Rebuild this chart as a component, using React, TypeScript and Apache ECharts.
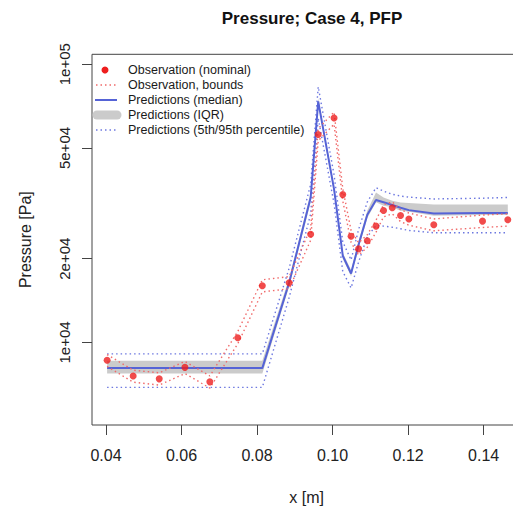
import React, { useEffect, useRef } from "react";
import * as echarts from "echarts";

const xPos = [0.0403, 0.0472, 0.0541, 0.0609, 0.0675, 0.0749, 0.0814, 0.0885, 0.0942, 0.0962, 0.1004, 0.1027, 0.1049, 0.1069, 0.1092, 0.1115, 0.1135, 0.1158, 0.118, 0.1202, 0.1268, 0.1397, 0.1464];

const obsNominal = [8630, 7580, 7400, 8140, 7220, 10400, 16000, 16400, 24500, 55900, 64100, 34000, 24100, 21700, 23200, 26200, 29800, 30500, 28600, 27800, 26500, 27300, 27600];
const obsUpper = [9050, 7950, 7780, 8550, 7580, 10950, 16800, 17250, 25700, 58700, 67300, 35700, 25300, 22800, 24400, 27500, 31300, 32000, 30000, 29200, 27800, 28700, 29000];
const obsLower = [8200, 7200, 7030, 7730, 6860, 9900, 15200, 15600, 23300, 53100, 60900, 32300, 22900, 20600, 22000, 24900, 28300, 29000, 27200, 26400, 25200, 25900, 26200];

const predQ95 = [9100, 9100, 9100, 9100, 9100, 9100, 9100, 18500, 37000, 83000, 40000, 23000, 19800, 25500, 32000, 36000, 35000, 34100, 33600, 33300, 32800, 33000, 33200];
const predQ75 = [8590, 8590, 8590, 8590, 8590, 8590, 8590, 17000, 34500, 75500, 36500, 21000, 18200, 23200, 29800, 34600, 33200, 32300, 31850, 31700, 31330, 31330, 31330];
const predMedian = [8090, 8090, 8090, 8090, 8090, 8090, 8090, 16400, 33200, 73500, 35500, 20500, 17700, 22500, 28800, 32500, 31900, 31200, 30500, 29900, 29100, 29200, 29200];
const predQ25 = [7740, 7740, 7740, 7740, 7740, 7740, 7740, 15900, 32000, 71500, 34500, 20000, 17300, 21800, 28000, 31900, 31000, 30600, 29750, 29500, 28560, 28700, 28700];
const predQ05 = [6900, 6900, 6900, 6900, 6900, 6900, 6900, 14500, 29000, 64000, 31500, 18000, 15700, 19500, 24000, 26300, 26200, 25960, 25620, 25270, 24790, 24800, 24800];

const xTicks = [0.04, 0.06, 0.08, 0.1, 0.12, 0.14];
const yTicks = [10000, 20000, 50000, 100000];

const legendLabels = [
  "Observation (nominal)",
  "Observation, bounds",
  "Predictions (median)",
  "Predictions (IQR)",
  "Predictions (5th/95th percentile)",
];

const RED = "#ee1e1e";
const RED_DOT = "#f06a6a";
const BLUE = "#5563d6";
const BLUE_DOT = "#6d78e0";
const GRAY = "#cbcbcb";
const FONT = "'Liberation Sans', Arial, Helvetica, sans-serif";

const pairs = (ys: number[]) => xPos.map((x, i) => [x, ys[i]]);

function fmtSci(v: number) {
  const e = Math.floor(Math.log10(v) + 1e-9);
  const m = Math.round(v / Math.pow(10, e));
  return m + "e+" + (e < 10 ? "0" + e : String(e));
}

export default function App() {
  const ref = useRef<HTMLDivElement>(null);
  useEffect(() => {
    if (!ref.current) return;
    const chart = echarts.init(ref.current, undefined, { renderer: "svg" });
    const legendY = [70, 85, 100, 115, 130];
    const graphics: any[] = [
      { type: "circle", shape: { cx: 105, cy: legendY[0], r: 3.5 }, style: { fill: RED }, z: 100 },
      { type: "line", shape: { x1: 96, y1: legendY[1], x2: 118, y2: legendY[1] }, style: { stroke: RED_DOT, lineWidth: 1.4, lineDash: [1.5, 3] }, z: 100 },
      { type: "line", shape: { x1: 95, y1: legendY[2], x2: 117, y2: legendY[2] }, style: { stroke: BLUE, lineWidth: 2 }, z: 100 },
      { type: "line", shape: { x1: 97, y1: legendY[3], x2: 117, y2: legendY[3] }, style: { stroke: GRAY, lineWidth: 9, lineCap: "round" }, z: 100 },
      { type: "line", shape: { x1: 96, y1: legendY[4], x2: 118, y2: legendY[4] }, style: { stroke: BLUE_DOT, lineWidth: 1.4, lineDash: [1.5, 3] }, z: 100 },
    ];
    legendLabels.forEach((t, i) => {
      graphics.push({
        type: "text",
        x: 128,
        y: legendY[i],
        style: { text: t, fill: "#1a1a1a", font: "12.5px " + FONT, textVerticalAlign: "middle", textAlign: "left" },
        z: 100,
      });
    });

    const option: any = {
      animation: false,
      title: {
        text: "Pressure; Case 4, PFP",
        left: 307,
        top: 5,
        textAlign: "center",
        textStyle: { fontFamily: FONT, fontWeight: "bold", fontSize: 17, color: "#111" },
      },
      grid: {
        left: 92,
        top: 54.3,
        width: 429.4,
        height: 373,
        show: true,
        borderColor: "#444",
        borderWidth: 1,
        backgroundColor: "transparent",
      },
      xAxis: {
        type: "value",
        min: 0.0363,
        max: 0.15,
        name: "x [m]",
        nameLocation: "middle",
        nameGap: 64,
        nameTextStyle: { fontFamily: FONT, fontSize: 16, color: "#222" },
        axisLine: { show: false },
        splitLine: { show: false },
        axisTick: { show: true, length: 10, customValues: xTicks, lineStyle: { color: "#444" } },
        axisLabel: {
          customValues: xTicks,
          margin: 22,
          fontFamily: FONT,
          fontSize: 16,
          color: "#222",
          formatter: (v: number) => v.toFixed(2),
        },
      },
      yAxis: {
        type: "log",
        logBase: 10,
        min: 5052,
        max: 108570,
        name: "Pressure [Pa]",
        nameLocation: "middle",
        nameRotate: 90,
        nameGap: 59,
        nameTextStyle: { fontFamily: FONT, fontSize: 16, color: "#222" },
        axisLine: { show: false },
        splitLine: { show: false },
        minorTick: { show: false },
        axisTick: { show: true, length: 10, customValues: yTicks, lineStyle: { color: "#444" } },
        axisLabel: {
          customValues: yTicks,
          rotate: 90,
          margin: 20,
          fontFamily: FONT,
          fontSize: 15,
          color: "#222",
          formatter: (v: number) => fmtSci(v),
        },
      },
      graphic: graphics,
      series: [
        {
          type: "custom",
          name: "Predictions (IQR)",
          coordinateSystem: "cartesian2d",
          clip: true,
          z: 1,
          data: [[0.1, 20000]],
          renderItem: (params: any, api: any) => {
            const up = xPos.map((x, i) => api.coord([x, predQ75[i]]));
            const lo = xPos.map((x, i) => api.coord([x, predQ25[i]])).reverse();
            return {
              type: "polygon",
              shape: { points: up.concat(lo) },
              style: { fill: GRAY, stroke: "none" },
            };
          },
        },
        {
          type: "line",
          name: "Predictions (5th percentile)",
          data: pairs(predQ05),
          symbol: "none",
          z: 2,
          lineStyle: { color: BLUE_DOT, width: 1.4, type: [1.5, 3] },
        },
        {
          type: "line",
          name: "Predictions (95th percentile)",
          data: pairs(predQ95),
          symbol: "none",
          z: 2,
          lineStyle: { color: BLUE_DOT, width: 1.4, type: [1.5, 3] },
        },
        {
          type: "line",
          name: "Predictions (median)",
          data: pairs(predMedian),
          symbol: "none",
          z: 3,
          lineStyle: { color: BLUE, width: 2 },
        },
        {
          type: "line",
          name: "Observation, upper bound",
          data: pairs(obsUpper),
          symbol: "none",
          z: 4,
          lineStyle: { color: RED_DOT, width: 1.4, type: [1.5, 3] },
        },
        {
          type: "line",
          name: "Observation, lower bound",
          data: pairs(obsLower),
          symbol: "none",
          z: 4,
          lineStyle: { color: RED_DOT, width: 1.4, type: [1.5, 3] },
        },
        {
          type: "scatter",
          name: "Observation (nominal)",
          data: pairs(obsNominal),
          symbol: "circle",
          symbolSize: 7,
          z: 5,
          itemStyle: { color: RED },
        },
      ],
    };
    chart.setOption(option);
    return () => chart.dispose();
  }, []);

  return (
    <div style={{ position: "absolute", left: 0, top: 0, width: 513, height: 510, overflow: "hidden", background: "#fff" }}>
      <div ref={ref} style={{ width: 540, height: 510 }} />
    </div>
  );
}
